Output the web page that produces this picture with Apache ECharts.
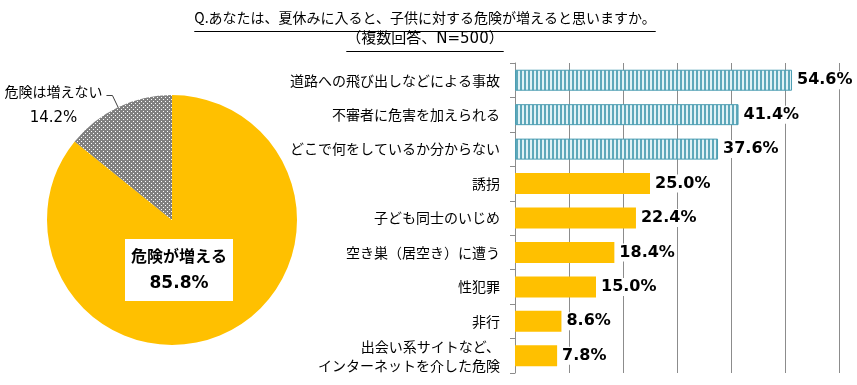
<!DOCTYPE html>
<html><head><meta charset="utf-8">
<script src="https://cdn.jsdelivr.net/npm/echarts@6/dist/echarts.min.js"></script>
<style>html,body{margin:0;padding:0;background:#fff}#c{width:857px;height:385px}</style>
</head><body><div id="c"></div>
<script>
const titleText = 'Q.あなたは、夏休みに入ると、子供に対する危険が増えると思いますか。';
const subtitleText = '（複数回答、N=500）';
const pieNames = ['危険が増える', '危険は増えない'];
const pieValues = [85.8, 14.2];
const categories = ['道路への飛び出しなどによる事故', '不審者に危害を加えられる', 'どこで何をしているか分からない', '誘拐', '子ども同士のいじめ', '空き巣（居空き）に遭う', '性犯罪', '非行', '出会い系サイトなど、\nインターネットを介した危険'];
const barValues = [51.3, 41.4, 37.6, 25.0, 22.4, 18.4, 15.0, 8.6, 7.8];
const barLabels = ['54.6%', '41.4%', '37.6%', '25.0%', '22.4%', '18.4%', '15.0%', '8.6%', '7.8%'];
const stripedCount = 3;

const JP = 'Noto Sans CJK JP';
const LAT = 'DejaVu Sans';
const MIX = "'DejaVu Sans', 'Noto Sans CJK JP'";

function stripePattern() {
  const c = document.createElement('canvas'); c.width = 4; c.height = 4;
  const g = c.getContext('2d');
  g.fillStyle = '#e0f2f6'; g.fillRect(0, 0, 4, 4);
  g.fillStyle = '#5ea8ba'; g.fillRect(0, 0, 2, 4);
  return c;
}
function dotPattern() {
  const c = document.createElement('canvas'); c.width = 4; c.height = 4;
  const g = c.getContext('2d');
  g.fillStyle = '#808080'; g.fillRect(0, 0, 4, 4);
  g.fillStyle = '#ffffff'; g.fillRect(1, 1, 1, 1); g.fillRect(3, 3, 1, 1);
  return c;
}
function textW(t, font) {
  const c = document.createElement('canvas').getContext('2d');
  c.font = font;
  return c.measureText(t).width;
}
const stripe = { image: stripePattern(), repeat: 'repeat' };
const dots = { image: dotPattern(), repeat: 'repeat' };

const titleCX = 425;
const w1 = textW(titleText, "14px 'Noto Sans CJK JP'");
const w2 = textW(subtitleText, "15px " + MIX);

const chart = echarts.init(document.getElementById('c'), null, { renderer: 'canvas' });
chart.setOption({
  animation: false,
  backgroundColor: '#fff',
  title: [
    { text: titleText, left: titleCX, top: 11, textAlign: 'center', padding: 0,
      textStyle: { fontSize: 14, fontWeight: 'normal', color: '#000', fontFamily: JP } },
    { text: subtitleText, left: titleCX, top: 32, textAlign: 'center', padding: 0,
      textStyle: { fontSize: 15, fontWeight: 'normal', color: '#000', fontFamily: MIX } }
  ],
  graphic: [
    { type: 'line', silent: true, shape: { x1: titleCX - w1 / 2, y1: 31.5, x2: titleCX + w1 / 2, y2: 31.5 }, style: { stroke: '#000', lineWidth: 1 } },
    { type: 'line', silent: true, shape: { x1: titleCX - w2 / 2, y1: 51.5, x2: titleCX + w2 / 2, y2: 51.5 }, style: { stroke: '#000', lineWidth: 1 } }
  ],
  grid: { left: 515, right: 18, top: 63, bottom: 12, containLabel: false },
  xAxis: {
    type: 'value', min: 0, max: 60, interval: 10,
    axisLabel: { show: false }, axisLine: { show: false }, axisTick: { show: false },
    splitLine: { lineStyle: { color: '#8c8c8c', width: 1 } }
  },
  yAxis: {
    type: 'category', data: categories, inverse: true,
    axisLine: { lineStyle: { color: '#8c8c8c' } },
    axisTick: { show: true, length: 5, lineStyle: { color: '#8c8c8c' } },
    axisLabel: { margin: 15, fontSize: 14, color: '#000', fontFamily: JP, lineHeight: 19 }
  },
  series: [
    {
      type: 'bar', barWidth: 21, z: 3,
      data: barValues.map((v, i) => ({
        value: v,
        itemStyle: i < stripedCount
          ? { color: stripe, borderColor: '#4b9db2', borderWidth: 1 }
          : { color: '#FFC000' }
      })),
      label: {
        show: true, position: 'right', distance: 3,
        formatter: p => barLabels[p.dataIndex],
        fontSize: 16, fontWeight: 'bold', fontFamily: LAT, color: '#000',
        backgroundColor: '#fff', padding: [1, 2]
      },
      emphasis: { disabled: true }
    },
    {
      type: 'pie', center: [172, 220], radius: 125, startAngle: 90, clockwise: true,
      avoidLabelOverlap: false, emphasis: { disabled: true },
      data: pieNames.map((n, i) => i === 0 ? {
        name: n, value: pieValues[i],
        itemStyle: { color: '#FFC000' },
        label: {
          position: 'inside',
          formatter: p => '{a|' + p.name + '}\n{b|' + p.value.toFixed(1) + '%}',
          backgroundColor: '#fff', padding: [3, 6],
          rich: {
            a: { fontSize: 16, fontWeight: 'bold', fontFamily: JP, color: '#000', lineHeight: 28 },
            b: { fontSize: 17, fontWeight: 'bold', fontFamily: LAT, color: '#000', lineHeight: 28 }
          }
        },
        labelLine: { show: false }
      } : {
        name: n, value: pieValues[i],
        itemStyle: { color: dots },
        label: {
          position: 'outside', distanceToLabelLine: 2, padding: [19, 0, 0, 0],
          formatter: p => '{a|' + p.name + '}\n{b|' + p.value.toFixed(1) + '%}',
          rich: {
            a: { fontSize: 14, fontFamily: JP, color: '#000', lineHeight: 27, width: 102, align: 'center' },
            b: { fontSize: 15, fontFamily: LAT, color: '#000', lineHeight: 27, width: 102, align: 'center' }
          }
        },
        labelLine: { show: true, length: 13, length2: 6, lineStyle: { color: '#404040', width: 1 } }
      }),
      labelLayout: function (p) {
        if (p.dataIndex === 0) return { x: 179, y: 270, align: 'center', verticalAlign: 'middle' };
      }
    }
  ]
});
</script>
</body></html>
